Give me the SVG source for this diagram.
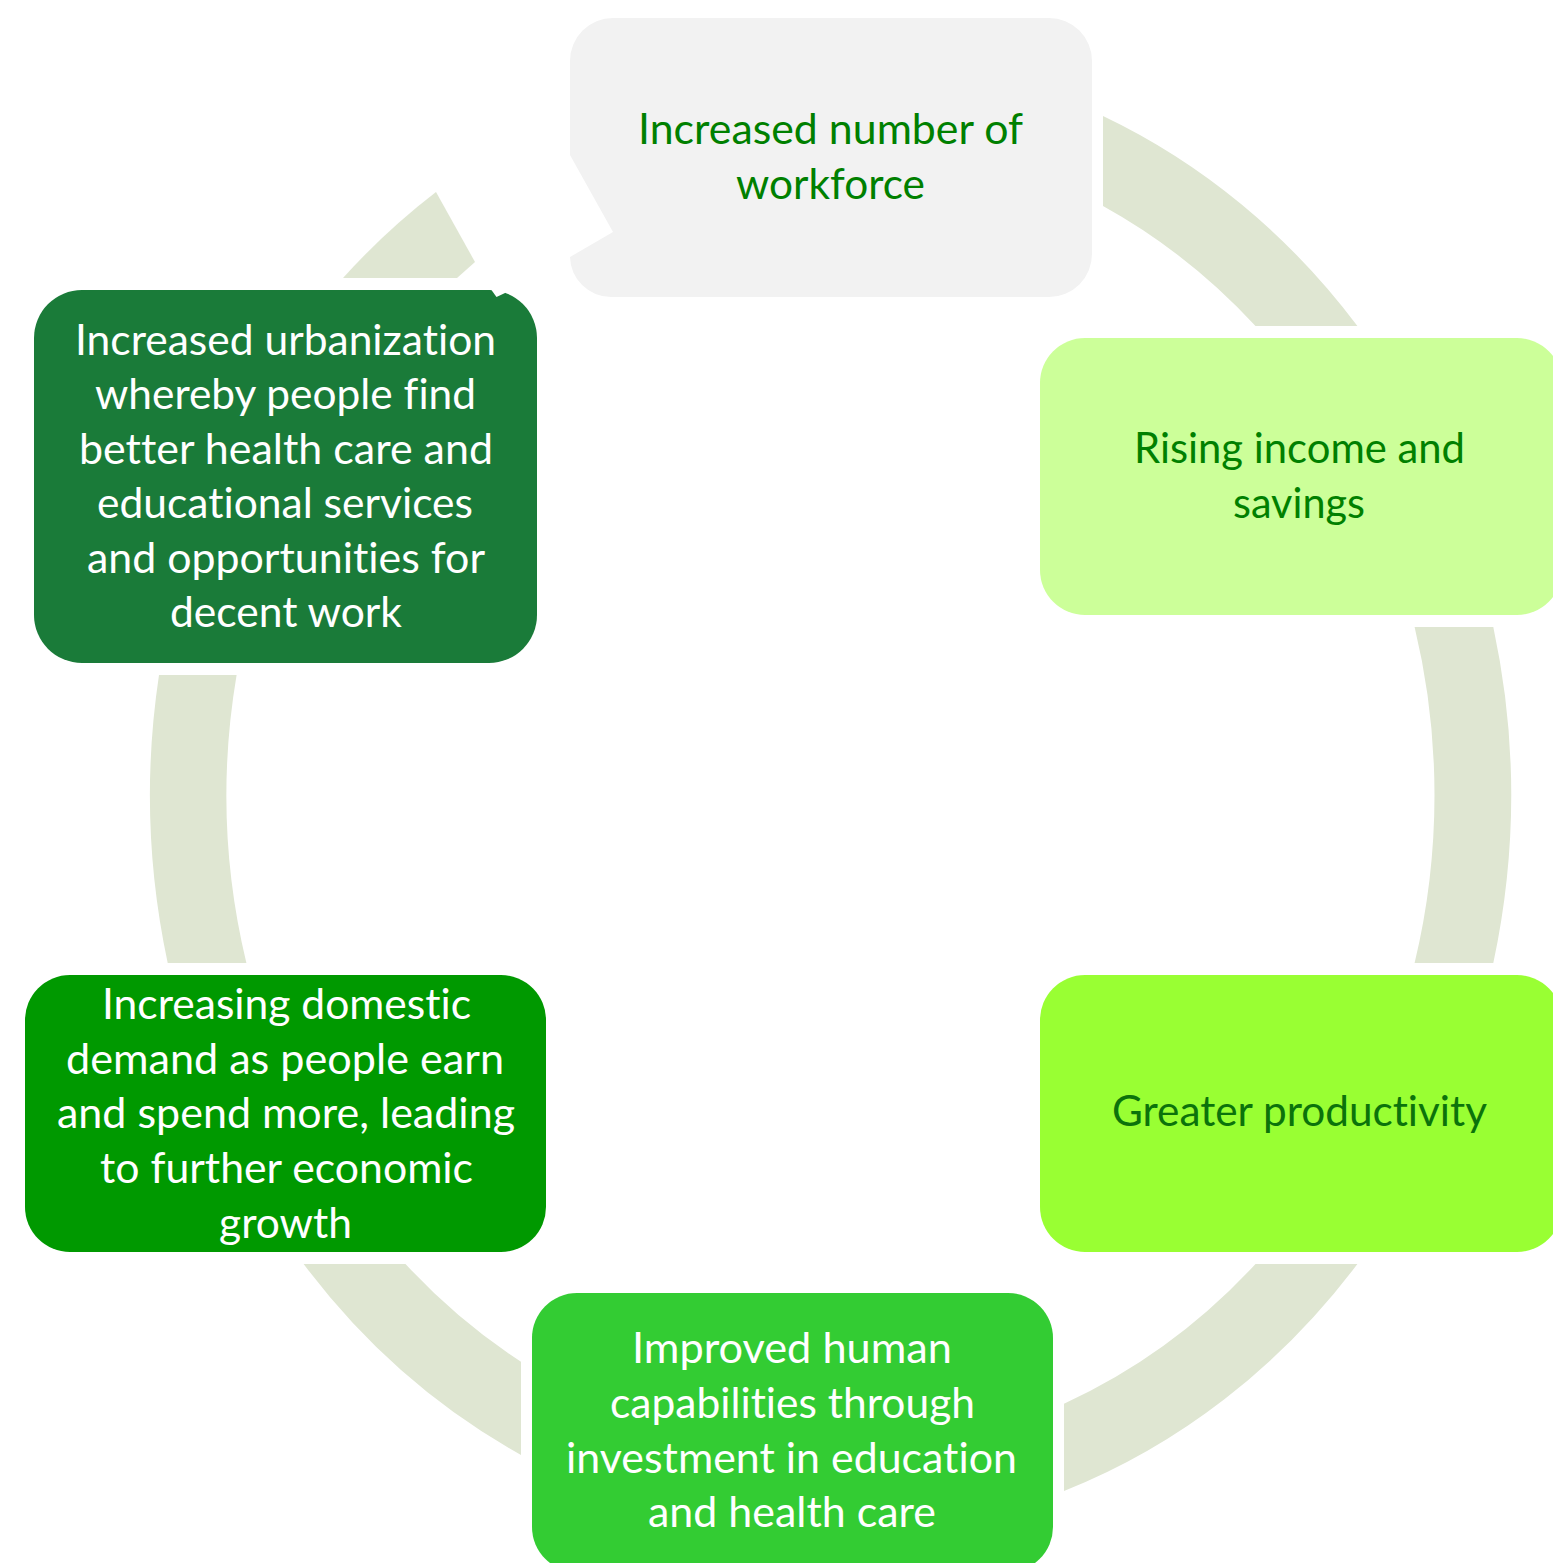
<svg xmlns="http://www.w3.org/2000/svg" width="1553" height="1563" viewBox="0 0 1553 1563">
<style>
.ring{fill:#dfe6d2;}
.t{font-family:Lato,"Open Sans","Liberation Sans",sans-serif;font-size:43px;font-variant-ligatures:none;font-feature-settings:"liga" 0,"clig" 0,"dlig" 0;}
.w{fill:#ffffff;}
.g{fill:#008000;}
.g2{fill:#0b730b;}
</style>
<rect width="1553" height="1563" fill="#ffffff"/>
<g id="connectors">
<path class="ring" d="M1103,116 A680.5,741 0 0 1 1357.4,326 L1255.5,326 A604,660 0 0 0 1103,206 Z"/>
<path class="ring" d="M1493.3,627 A680.5,741 0 0 1 1493.3,963 L1414.6,963 A604,660 0 0 0 1414.6,627 Z"/>
<path class="ring" d="M1357.4,1264 A680.5,741 0 0 1 1064,1491 L1064,1403.7 A604,660 0 0 0 1255.5,1264 Z"/>
<path class="ring" d="M521,1454.9 A680.5,741 0 0 1 303.6,1264 L405.5,1264 A604,660 0 0 0 521,1361.8 Z"/>
<path class="ring" d="M167.7,963 A680.5,741 0 0 1 159,675 L236.6,675 A604,660 0 0 0 246.4,963 Z"/>
<path class="ring" d="M343,278 L457,278 L475,262 L436,192 A680.5,741 0 0 0 343,278 Z"/>
</g>
<g id="node-workforce">
<path fill="#f2f2f2" d="M613,18 H1049 A43,43 0 0 1 1092,61 V254 A43,43 0 0 1 1049,297 H611 A41,41 0 0 1 570,257 L613,232 L570,155 V61 A43,43 0 0 1 613,18 Z"/>
<text class="t g" x="638" y="144" textLength="385" lengthAdjust="spacingAndGlyphs">Increased number of</text>
<text class="t g" x="736" y="199" textLength="189" lengthAdjust="spacingAndGlyphs">workforce</text>
</g>
<g id="node-income">
<rect x="1040" y="338" width="522" height="277" rx="45" fill="#ccff99"/>
<text class="t g" x="1134" y="463" textLength="331" lengthAdjust="spacingAndGlyphs">Rising income and</text>
<text class="t g" x="1233" y="518" textLength="132" lengthAdjust="spacingAndGlyphs">savings</text>
</g>
<g id="node-productivity">
<rect x="1040" y="975" width="522" height="277" rx="45" fill="#99ff33"/>
<text class="t g2" x="1112" y="1126" textLength="375" lengthAdjust="spacingAndGlyphs">Greater productivity</text>
</g>
<g id="node-capabilities">
<rect x="532" y="1293" width="521" height="279" rx="45" fill="#33cc33"/>
<text class="t w" x="632" y="1363" textLength="320" lengthAdjust="spacingAndGlyphs">Improved human</text>
<text class="t w" x="610" y="1418" textLength="365" lengthAdjust="spacingAndGlyphs">capabilities through</text>
<text class="t w" x="566" y="1473" textLength="451" lengthAdjust="spacingAndGlyphs">investment in education</text>
<text class="t w" x="648" y="1527" textLength="288" lengthAdjust="spacingAndGlyphs">and health care</text>
</g>
<g id="node-demand">
<rect x="25" y="975" width="521" height="277" rx="45" fill="#009900"/>
<text class="t w" x="102" y="1019" textLength="369" lengthAdjust="spacingAndGlyphs">Increasing domestic</text>
<text class="t w" x="66" y="1074" textLength="438" lengthAdjust="spacingAndGlyphs">demand as people earn</text>
<text class="t w" x="57" y="1128" textLength="458" lengthAdjust="spacingAndGlyphs">and spend more, leading</text>
<text class="t w" x="100" y="1183" textLength="373" lengthAdjust="spacingAndGlyphs">to further economic</text>
<text class="t w" x="219" y="1238" textLength="133" lengthAdjust="spacingAndGlyphs">growth</text>
</g>
<g id="node-urbanization">
<rect x="34" y="290" width="503" height="373" rx="48" fill="#1a7b39"/>
<polygon points="490,288 496.5,297 505,293 505,288" fill="#ffffff"/>
<text class="t w" x="75" y="355" textLength="421" lengthAdjust="spacingAndGlyphs">Increased urbanization</text>
<text class="t w" x="95" y="409" textLength="381" lengthAdjust="spacingAndGlyphs">whereby people find</text>
<text class="t w" x="79" y="464" textLength="414" lengthAdjust="spacingAndGlyphs">better health care and</text>
<text class="t w" x="97" y="518" textLength="376" lengthAdjust="spacingAndGlyphs">educational services</text>
<text class="t w" x="87" y="573" textLength="398" lengthAdjust="spacingAndGlyphs">and opportunities for</text>
<text class="t w" x="170" y="627" textLength="232" lengthAdjust="spacingAndGlyphs">decent work</text>
</g>
</svg>
